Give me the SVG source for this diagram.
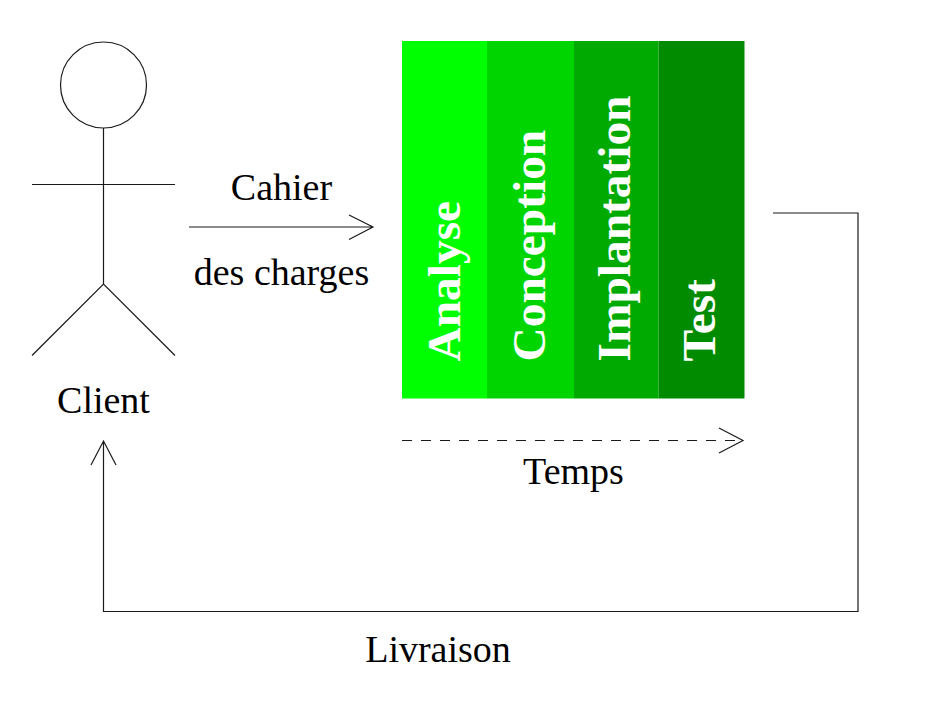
<svg xmlns="http://www.w3.org/2000/svg" width="928" height="705" viewBox="0 0 928 705">
<style>
.l{fill:none;stroke:#1a1a1a;stroke-width:1.2}
.t{font-family:"Liberation Serif",serif;font-size:38px;fill:#000;text-anchor:middle}
.v{font-family:"Liberation Serif",serif;font-size:47.400px;font-weight:bold;fill:#fff}
</style>
<rect width="928" height="705" fill="#fff"/>
<g id="client"><circle class="l" cx="103.500" cy="85" r="43"/><path class="l" d="M103.500 128V284M32 184.500H175M32 355.500L103.500 284L175 355.500"/><text class="t" x="103.500" y="412.500">Client</text></g>
<g id="analyse"><rect x="402" y="41" width="85" height="357.500" fill="#0f0"/><text class="v" transform="translate(460 361.500) rotate(-90)">Analyse</text></g>
<g id="conception"><rect x="487" y="41" width="87" height="357.500" fill="#00d500"/><text class="v" transform="translate(545 361.500) rotate(-90)">Conception</text></g>
<g id="implantation"><rect x="574" y="41" width="84.500" height="357.500" fill="#00aa00"/><text class="v" transform="translate(630 361.500) rotate(-90)">Implantation</text></g>
<g id="test"><rect x="658.500" y="41" width="86" height="357.500" fill="#008b00"/><text class="v" transform="translate(715 361.500) rotate(-90)">Test</text></g>
<g id="connectors">
<path class="l" d="M189 227H373M349 215L373 227L349 239.500"/>
<path class="l" stroke-dasharray="10 9" d="M402 440.500H743"/><path class="l" d="M719 428L743 440.500L719 453"/>
<path class="l" d="M773 213H858V611.500H103.500V441M91 465L103.500 441L116 465"/>
</g>
<text class="t" x="281.500" y="199.500">Cahier</text>
<text class="t" x="281.500" y="284.500">des charges</text>
<text class="t" x="573.500" y="483.500">Temps</text>
<text class="t" x="438" y="661.500">Livraison</text>
</svg>
